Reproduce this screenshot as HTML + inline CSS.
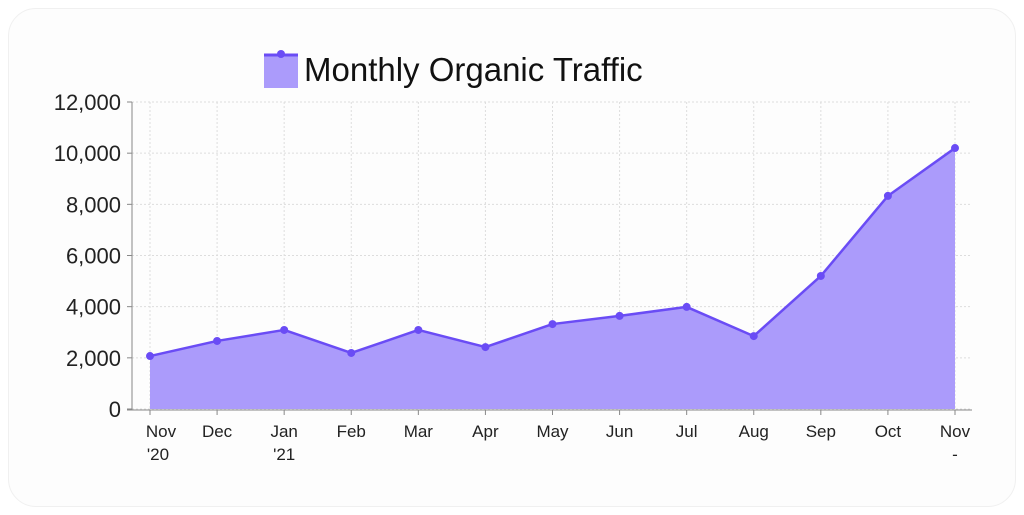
<!DOCTYPE html>
<html><head><meta charset="utf-8"><style>
html,body{margin:0;padding:0;background:#fff;}
body{width:1024px;height:515px;overflow:hidden;font-family:"Liberation Sans",sans-serif;}
.card{position:absolute;left:8px;top:8px;width:1006px;height:497px;border:1px solid #f0f0f0;border-radius:28px;background:#fdfdfd;}
</style></head><body>
<div class="card"></div>
<svg id="chart" width="1024" height="515" style="position:absolute;left:0;top:0"></svg>
<script>
const categories=["Nov","Dec","Jan","Feb","Mar","Apr","May","Jun","Jul","Aug","Sep","Oct","Nov"];
const subLabels=["'20","","'21","","","","","","","","","","-"];
const trafficValues=[2070,2660,3090,2190,3090,2420,3320,3640,3990,2850,5200,8330,10200];
const yTicks=[0,2000,4000,6000,8000,10000,12000];
const yTickLabels=["0","2,000","4,000","6,000","8,000","10,000","12,000"];
const NS="http://www.w3.org/2000/svg";
const svg=document.getElementById('chart');
const x0=150,x1=955,yb=409,yt=102,yMax=12000;
const xs=i=>x0+(x1-x0)*i/(categories.length-1);
const ys=v=>yb-(yb-yt)*v/yMax;
function mk(t,a,p){const e=document.createElementNS(NS,t);for(const k in a)e.setAttribute(k,a[k]);(p||svg).appendChild(e);return e;}
// grid
yTicks.forEach((v,i)=>{
 const g=mk('line',{x1:132,x2:972,y1:ys(v),y2:ys(v),stroke:'#dddddd','stroke-dasharray':'2,2'});
 
 
 const t=mk('line',{x1:127,x2:132,y1:ys(v),y2:ys(v),stroke:'#888'});
 
 
 const l=mk('text',{x:121,y:ys(v)+8,'text-anchor':'end','font-size':22,fill:'#222'});
 l.textContent=yTickLabels[i];
 
 
});
categories.forEach((c,i)=>{
 const g=mk('line',{x1:xs(i),x2:xs(i),y1:yt,y2:yb,stroke:'#dddddd','stroke-dasharray':'2,2'});
 
 
 const t=mk('line',{x1:xs(i),x2:xs(i),y1:410,y2:415,stroke:'#888'});
 
 
 const off=(i===0)?11:0;
 const l=mk('text',{x:xs(i)+off,y:437,'text-anchor':'middle','font-size':17,fill:'#222'});
 l.textContent=c;
 
 
 if(subLabels[i]){
  const s=mk('text',{x:xs(i)+off-(i===0?3:0),y:460,'text-anchor':'middle','font-size':17,fill:'#222'});
  s.textContent=subLabels[i];
  
  
 }
});
// area
let pts=trafficValues.map((v,i)=>xs(i)+','+ys(v)).join(' ');
const area=mk('polygon',{points:xs(0)+','+yb+' '+pts+' '+xs(trafficValues.length-1)+','+yb,fill:'#ab9bfb'});


const line=mk('polyline',{points:pts,fill:'none',stroke:'#6a4cf5','stroke-width':2.5,'stroke-linejoin':'round'});


trafficValues.forEach((v,i)=>{
 const c=mk('circle',{cx:xs(i),cy:ys(v),r:4,fill:'#6a4cf5'});
 
 
});
// axes
const ya=mk('line',{x1:132,x2:132,y1:102,y2:410,stroke:'#888'});


const xa=mk('line',{x1:127,x2:972,y1:410,y2:410,stroke:'#888'});


// legend
const lg=mk('g',{});


mk('rect',{x:264,y:54,width:34,height:34,fill:'#ab9bfb'},lg);
mk('line',{x1:264,x2:298,y1:55,y2:55,stroke:'#6a4cf5','stroke-width':3},lg);
mk('circle',{cx:281,cy:54,r:4,fill:'#6a4cf5'},lg);
const lt=mk('text',{x:304,y:81,'font-size':33,fill:'#111'},lg);
lt.textContent='Monthly Organic Traffic';
</script>
</body></html>
